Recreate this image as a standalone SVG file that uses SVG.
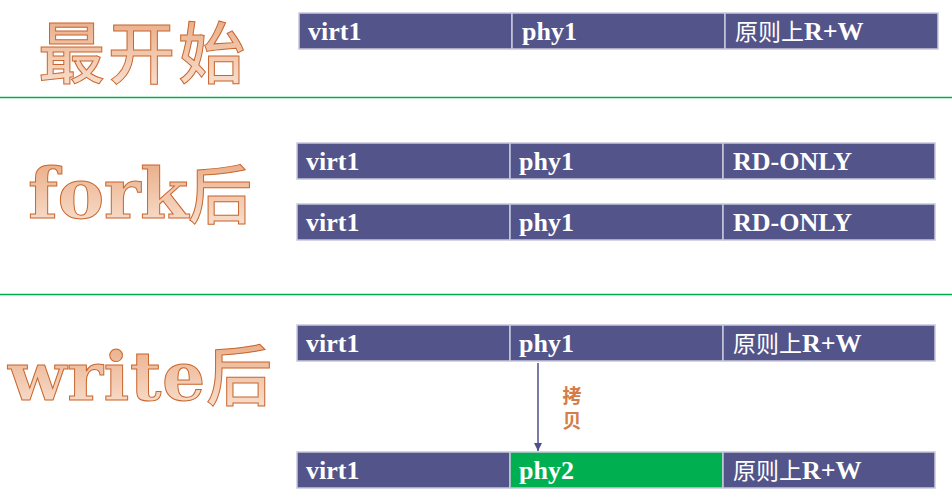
<svg xmlns="http://www.w3.org/2000/svg" width="952" height="500" viewBox="0 0 952 500">
<defs>
<linearGradient id="tg" x1="0" y1="0" x2="0" y2="1">
<stop offset="0" stop-color="#e6a075"/>
<stop offset="1" stop-color="#fbe6d8"/>
</linearGradient>
<marker id="ah" viewBox="0 0 10 10" refX="10" refY="5" markerWidth="8" markerHeight="8" markerUnits="userSpaceOnUse" orient="auto">
<path d="M0,0 L10,5 L0,10 z" fill="#4f4f8a"/>
</marker>
<style>
.title{font-family:"DejaVu Serif","Noto Sans CJK SC",serif;font-weight:bold;fill:url(#tg);stroke:#c8662e;stroke-width:1}
.tcjk{font-family:"Noto Sans CJK SC",sans-serif;font-weight:500}
.cell{fill:#53548a;stroke:#c8c8dc;stroke-width:1.5}
.green{fill:#00b050}
.ct{font-family:"Liberation Serif","Noto Sans CJK SC",serif;font-weight:bold;font-size:26px;fill:#ffffff}
.cj{font-family:"Noto Sans CJK SC",sans-serif;font-weight:normal;font-size:23px}
.sep{stroke:#00b050;stroke-width:1.5}
.lbl{font-family:"Noto Sans CJK SC",sans-serif;font-weight:bold;font-size:19px;fill:#d47d48;text-anchor:middle}
</style>
</defs>
<rect width="952" height="500" fill="#ffffff"/>
<line class="sep" x1="0" y1="97.5" x2="952" y2="97.5"/>
<line class="sep" x1="0" y1="294.5" x2="952" y2="294.5"/>

<g id="title-start">
<text class="title tcjk" x="38" y="78" font-size="67" textLength="207" lengthAdjust="spacing">最开始</text>
</g>
<g id="title-fork">
<text class="title" x="28" y="218" font-size="70" textLength="224" lengthAdjust="spacing">fork<tspan class="tcjk" font-size="64">后</tspan></text>
</g>
<g id="title-write">
<text class="title" x="8" y="400" font-size="68" textLength="264" lengthAdjust="spacing">write<tspan class="tcjk" font-size="66">后</tspan></text>
</g>

<g id="row-start">
<rect class="cell" x="299" y="13" width="213" height="36"/>
<rect class="cell" x="512" y="13" width="213" height="36"/>
<rect class="cell" x="725" y="13" width="213" height="36"/>
<text class="ct" x="308" y="40">virt1</text>
<text class="ct" x="522" y="40">phy1</text>
<text class="ct" x="735" y="40"><tspan class="cj">原则上</tspan>R+W</text>
</g>

<g id="row-fork-1">
<rect class="cell" x="297" y="143" width="213" height="36"/>
<rect class="cell" x="510" y="143" width="213" height="36"/>
<rect class="cell" x="723" y="143" width="212" height="36"/>
<text class="ct" x="306" y="170">virt1</text>
<text class="ct" x="519" y="170">phy1</text>
<text class="ct" x="733" y="170">RD-ONLY</text>
</g>

<g id="row-fork-2">
<rect class="cell" x="297" y="204" width="213" height="36"/>
<rect class="cell" x="510" y="204" width="213" height="36"/>
<rect class="cell" x="723" y="204" width="212" height="36"/>
<text class="ct" x="306" y="231">virt1</text>
<text class="ct" x="519" y="231">phy1</text>
<text class="ct" x="733" y="231">RD-ONLY</text>
</g>

<g id="row-write-1">
<rect class="cell" x="297" y="325" width="213" height="36"/>
<rect class="cell" x="510" y="325" width="213" height="36"/>
<rect class="cell" x="723" y="325" width="212" height="36"/>
<text class="ct" x="306" y="352">virt1</text>
<text class="ct" x="519" y="352">phy1</text>
<text class="ct" x="733" y="352"><tspan class="cj">原则上</tspan>R+W</text>
</g>

<g id="row-write-2">
<rect class="cell" x="297" y="452" width="213" height="36"/>
<rect class="cell green" x="510" y="452" width="213" height="36"/>
<rect class="cell" x="723" y="452" width="212" height="36"/>
<text class="ct" x="306" y="479">virt1</text>
<text class="ct" x="519" y="479">phy2</text>
<text class="ct" x="733" y="479"><tspan class="cj">原则上</tspan>R+W</text>
</g>

<g id="connectors">
<line x1="538" y1="363" x2="538" y2="451" stroke="#4f4f8a" stroke-width="1.5" marker-end="url(#ah)"/>
<text class="lbl" x="572" y="403">拷</text>
<text class="lbl" x="572" y="428">贝</text>
</g>
</svg>
